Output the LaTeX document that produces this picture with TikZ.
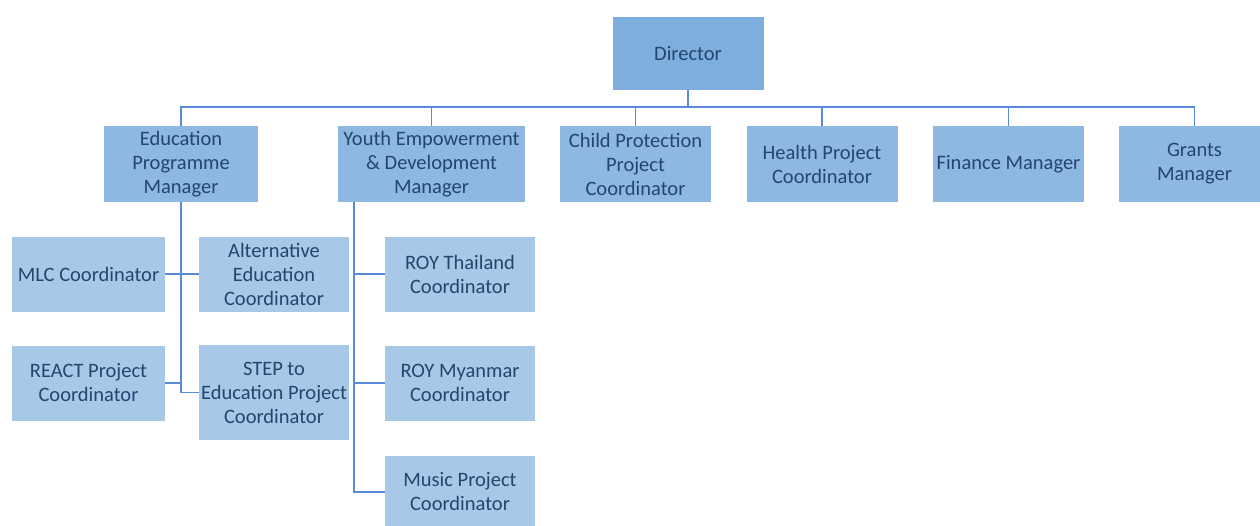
\documentclass[tikz,border=0pt]{standalone}
\usepackage{fontspec}
\setmainfont{Carlito}
\definecolor{topfill}{HTML}{7DAEDD}
\definecolor{midfill}{HTML}{8DB8E2}
\definecolor{lowfill}{HTML}{A8C8E8}
\definecolor{txtc}{HTML}{23466F}
\definecolor{linec}{HTML}{5A8BD8}
\begin{document}
\begin{tikzpicture}[x=1pt,y=-1pt,
  box/.style={rectangle, inner sep=0pt, align=center, text=txtc,
    font=\fontsize{20.5}{24}\selectfont, minimum height=76},
  topbox/.style={box, fill=topfill, minimum width=151, minimum height=73},
  midbox/.style={box, fill=midfill, minimum width=151},
  lowbox/.style={box, fill=lowfill, minimum width=151, minimum height=75},
  conn/.style={draw=linec, line width=1.5pt}]
\useasboundingbox (0,0) rectangle (1260,525);
% top
\node[topbox] (dir) at (688,53.5) {Director};
% level 1
\node[midbox, minimum width=154] (edu) at (181,164) {Education\\Programme\\Manager};
\node[midbox, minimum width=187] (yth) at (431.5,164) {Youth Empowerment\\\& Development\\Manager};
\node[midbox] (cpp) at (635.5,164) {Child Protection\\Project\\Coordinator};
\node[midbox] (hea) at (822,164) {Health Project\\Coordinator};
\node[midbox] (fin) at (1008.5,164) {Finance Manager};
\node[midbox] (gra) at (1194.5,164) {Grants\\Manager};
% level 2 (education)
\node[lowbox, minimum width=153] (mlc) at (88.5,274) {MLC Coordinator};
\node[lowbox, minimum width=150] (alt) at (274,274) {Alternative\\Education\\Coordinator};
\node[lowbox, minimum width=153] (rea) at (88.5,383) {REACT Project\\Coordinator};
\node[lowbox, minimum width=150, minimum height=95] (stp) at (274,392.5) {STEP to\\Education Project\\Coordinator};
% level 2 (youth)
\node[lowbox, minimum width=150] (roy1) at (460,274) {ROY Thailand\\Coordinator};
\node[lowbox, minimum width=150] (roy2) at (460,383) {ROY Myanmar\\Coordinator};
\node[lowbox, minimum width=150, minimum height=72] (mus) at (460,492) {Music Project\\Coordinator};
% connectors: director to level 1
\foreach \n in {edu,yth,cpp,hea,fin,gra}
  \draw[conn] (\n.north) -- ++(0,-19) -| (dir.south);
% education branch
\draw[conn] (edu.south) |- (stp.west);
\draw[conn] (mlc.east) -- (alt.west);
\draw[conn] (rea.east) -- (rea.east -| edu.south);
% youth branch
\coordinate (ys) at ([xshift=16]yth.south west);
\draw[conn] (ys) |- (mus.west);
\draw[conn] (roy1.west) -- (roy1.west -| ys);
\draw[conn] (roy2.west) -- (roy2.west -| ys);
\end{tikzpicture}
\end{document}
